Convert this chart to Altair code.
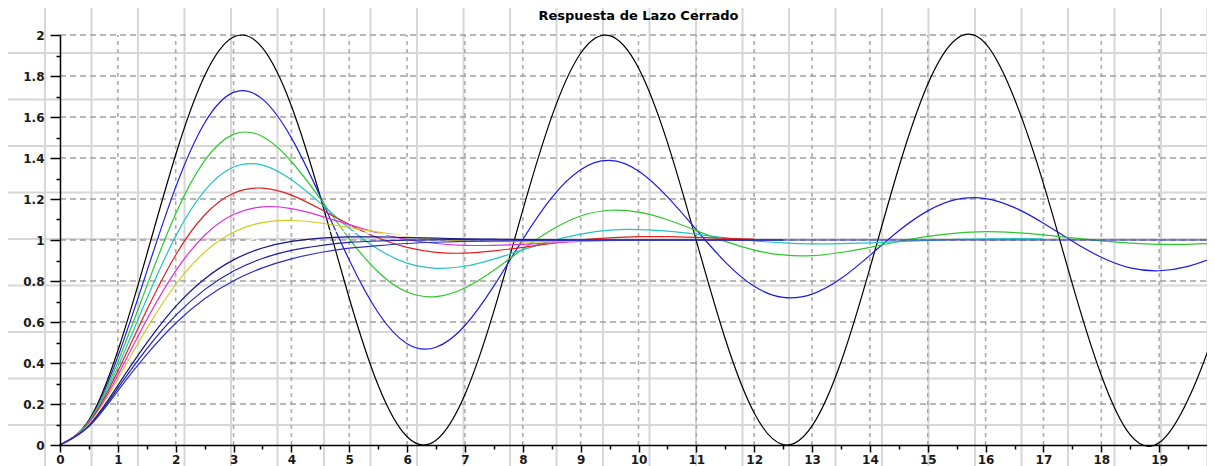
import altair as alt
import pandas as pd

# ---------------- data ----------------
T = [0, 0.5, 1, 1.5, 2, 2.5, 3, 3.5, 4, 4.5, 5, 5.5, 6, 6.5, 7, 7.5, 8, 8.5, 9, 9.5,
     10, 10.5, 11, 11.5, 12, 12.5, 13, 13.5, 14, 14.5, 15, 15.5, 16, 16.5, 17, 17.5,
     18, 18.5, 19, 19.5, 20, 20.5, 21]

series_names = ["z0.0", "z0.1", "z0.2", "z0.3", "z0.4", "z0.5", "z0.6", "z0.7", "z0.8", "z0.9", "z1.0"]

Y_BLACK = [0, 0.122, 0.460, 0.929, 1.416, 1.801, 1.990, 1.937, 1.654, 1.211, 0.716, 0.291,
           0.040, 0.023, 0.246, 0.653, 1.146, 1.602, 1.911, 1.997, 1.839, 1.476, 0.996,
           0.517, 0.156, 0.002, 0.093, 0.405, 0.863, 1.355, 1.760, 1.982, 1.958, 1.688,
           1.275, 0.785, 0.340, 0.049, 0.011, 0.222, 0.592, 1.075, 1.548]
Y_BLUE = [0, 0.118, 0.431, 0.846, 1.258, 1.571, 1.720, 1.687, 1.498, 1.211, 0.902, 0.645,
          0.494, 0.477, 0.583, 0.776, 1.003, 1.207, 1.343, 1.388, 1.336, 1.210, 1.050,
          0.892, 0.774, 0.720, 0.736, 0.812, 0.925, 1.045, 1.142, 1.198, 1.202, 1.158,
          1.082, 0.994, 0.916, 0.864, 0.850, 0.871, 0.921, 0.984, 1.045]
Y_GREEN = [0, 0.115, 0.405, 0.775, 1.128, 1.387, 1.515, 1.505, 1.383, 1.201, 1.006, 0.844,
           0.746, 0.724, 0.766, 0.852, 0.956, 1.050, 1.117, 1.145, 1.136, 1.099, 1.046,
           0.993, 0.951, 0.927, 0.924, 0.939, 0.964, 0.993, 1.018, 1.034, 1.041, 1.036,
           1.025, 1.010, 0.996, 0.985, 0.979, 0.979, 0.984, 0.991, 0.999]
Y_CYAN = [0, 0.111, 0.381, 0.713, 1.019, 1.241, 1.356, 1.365, 1.294, 1.180, 1.057, 0.955,
          0.887, 0.862, 0.872, 0.907, 0.952, 0.996, 1.029, 1.048, 1.051, 1.043, 1.028,
          1.011, 0.996, 0.986, 0.981, 0.982, 0.986, 0.992, 0.998, 1.003, 1.006, 1.007, 1.006]
Y_RED = [0, 0.108, 0.360, 0.658, 0.927, 1.122, 1.228, 1.253, 1.219, 1.151, 1.076, 1.010,
         0.964, 0.940, 0.936, 0.947, 0.964, 0.983, 1.000, 1.010, 1.016, 1.016, 1.013, 1.008, 1.004]
Y_MAGENTA = [0, 0.104, 0.340, 0.611, 0.849, 1.023, 1.124, 1.162, 1.153, 1.118, 1.075, 1.034,
             1.002, 0.983, 0.974, 0.974, 0.979, 0.986, 0.993, 0.998, 1.002]
Y_YELLOW = [0, 0.101, 0.322, 0.568, 0.783, 0.941, 1.038, 1.085, 1.095, 1.083, 1.061, 1.038,
            1.018, 1.004, 0.995, 0.992, 0.991, 0.992, 0.995, 0.997, 0.999]
Y_WHITE = [0, 0.098, 0.306, 0.531, 0.726, 0.871, 0.965, 1.018, 1.042, 1.046, 1.040, 1.030,
           1.020, 1.011, 1.005, 1.001, 0.999, 0.998, 0.998, 0.998, 0.999]
Y_NAVY1 = [0, 0.096, 0.291, 0.498, 0.676, 0.810, 0.903, 0.961, 0.993, 1.009, 1.015, 1.015,
           1.012, 1.009, 1.006, 1.004, 1.002, 1.001, 1.000, 1.000, 1.000, 1.000, 1.000,
           1.000, 1.000, 1.000]
Y_NAVY2 = [0, 0.093, 0.277, 0.469, 0.632, 0.758, 0.849, 0.910, 0.949, 0.973, 0.988, 0.995,
           0.999, 1.001, 1.002, 1.001, 1.001, 1.000, 1.000, 1.000, 1.000, 1.000, 1.000,
           1.000, 1.000, 1.000]
Y_NAVY3 = [0, 0.090, 0.264, 0.442, 0.594, 0.713, 0.801, 0.864, 0.908, 0.939, 0.960, 0.973,
           0.983, 0.989, 0.993, 0.995, 0.997, 0.998, 0.999, 0.999, 1.000, 1.000, 1.000,
           1.000, 1.000, 1.000, 1.000, 1.000, 1.000, 1.000, 1.000, 1.000, 1.000, 1.000,
           1.000, 1.000, 1.000, 1.000, 1.000, 1.000, 1.000, 1.000, 1.000]

all_series = [Y_BLACK, Y_BLUE, Y_GREEN, Y_CYAN, Y_RED, Y_MAGENTA, Y_YELLOW, Y_WHITE,
              Y_NAVY1, Y_NAVY2, Y_NAVY3]
curve_colors = ["#000000", "#1c1ce6", "#2ec82e", "#22c4c4", "#e02020", "#e02ee0",
                "#d2ca1c", "#ffffff", "#14148c", "#2020a8", "#3030c2"]

# axis ticks: major (labelled) and minor
x_major = [0, 1, 2, 3, 4, 5, 6, 7, 8, 9, 10, 11, 12, 13, 14, 15, 16, 17, 18, 19, 20]
x_minor = [0.5, 1.5, 2.5, 3.5, 4.5, 5.5, 6.5, 7.5, 8.5, 9.5, 10.5, 11.5, 12.5, 13.5,
           14.5, 15.5, 16.5, 17.5, 18.5, 19.5]
y_major = [0, 0.2, 0.4, 0.6, 0.8, 1.0, 1.2, 1.4, 1.6, 1.8, 2.0]
y_minor = [0.1, 0.3, 0.5, 0.7, 0.9, 1.1, 1.3, 1.5, 1.7, 1.9]
x_grid = [1, 2, 3, 4, 5, 6, 7, 8, 9, 10, 11, 12, 13, 14, 15, 16, 17, 18, 19, 20]
y_grid = [0.2, 0.4, 0.6, 0.8, 1.0, 1.2, 1.4, 1.6, 1.8, 2.0]

# the figure is cut at the right edge of the picture, just before t = 20
x_visible = [0, 19.827]

# light background paper grid seen behind the figure (in data units)
bg_x = [-0.259, 0.545, 1.348, 2.152, 2.956, 3.760, 4.564, 5.367, 6.171, 6.975, 7.779,
        8.583, 9.386, 10.190, 10.994, 11.798, 12.602, 13.405, 14.209, 15.013, 15.817,
        16.621, 17.425, 18.228, 19.032, 19.836]
bg_y = [2.139, 1.912, 1.685, 1.459, 1.232, 1.005, 0.778, 0.551, 0.324, 0.098]

# ---------------- build tables ----------------
rows = []
for name, ys in zip(series_names, all_series):
    for t, v in zip(T, ys):
        rows.append({"t": t, "y": v, "serie": name})
df = pd.DataFrame(rows)

xscale = alt.Scale(domain=x_visible, nice=False, zero=False)
yscale = alt.Scale(domain=[0, 2], nice=False, zero=False)

label_style = dict(labelFont="DejaVu Sans", labelFontSize=12, labelFontWeight="bold",
                   labelColor="#1a1a1a", labelOverlap=False, labelFlush=False)

x_axis_major = alt.Axis(
    values=x_major, title=None, grid=False, zindex=1, orient="bottom",
    domainColor="#000000", domainWidth=1.5,
    tickColor="#000000", tickWidth=1.5, tickSize=7,
    labelExpr="toString(round(datum.value))", labelPadding=2, **label_style,
)
x_axis_minor = alt.Axis(
    values=x_minor, title=None, grid=False, zindex=1, orient="bottom",
    domain=False, labels=False,
    tickColor="#000000", tickWidth=1.5, tickSize=4,
)
y_axis_major = alt.Axis(
    values=y_major, title=None, grid=False, zindex=1, orient="left",
    domainColor="#000000", domainWidth=1.5,
    tickColor="#000000", tickWidth=1.5, tickSize=10,
    labelExpr="toString(round(datum.value * 10) / 10)", labelPadding=6, **label_style,
)
y_axis_minor = alt.Axis(
    values=y_minor, title=None, grid=False, zindex=1, orient="left",
    domain=False, labels=False,
    tickColor="#000000", tickWidth=1.5, tickSize=4,
)

bg_v = alt.Chart(pd.DataFrame({"t": bg_x})).mark_rule(color="#d7d7d7", strokeWidth=2).encode(
    x=alt.X("t:Q", scale=xscale, axis=None),
    y=alt.YDatum(-0.2, scale=yscale, axis=None),
    y2=alt.Y2Datum(2.14),
)
bg_h = alt.Chart(pd.DataFrame({"y": bg_y})).mark_rule(color="#d7d7d7", strokeWidth=2).encode(
    y=alt.Y("y:Q", scale=yscale, axis=None),
    x=alt.XDatum(-1.2, scale=xscale, axis=None),
    x2=alt.X2Datum(21.5),
)
grid_v = alt.Chart(pd.DataFrame({"t": x_grid})).mark_rule(
    color="#ababab", strokeWidth=1.6, strokeDash=[4, 4]).encode(
    x=alt.X("t:Q", scale=xscale, axis=x_axis_minor),
    y=alt.YDatum(0, scale=yscale, axis=None),
    y2=alt.Y2Datum(2),
)
grid_h = alt.Chart(pd.DataFrame({"y": y_grid})).mark_rule(
    color="#a0a0a0", strokeWidth=1.4, strokeDash=[6, 4]).encode(
    y=alt.Y("y:Q", scale=yscale, axis=y_axis_minor),
    x=alt.XDatum(0, scale=xscale, axis=None),
    x2=alt.X2Datum(20),
)
curves = alt.Chart(df).mark_line(interpolate="natural", strokeWidth=1.2).encode(
    x=alt.X("t:Q", scale=xscale, axis=x_axis_major),
    y=alt.Y("y:Q", scale=yscale, axis=y_axis_major),
    color=alt.Color("serie:N", scale=alt.Scale(domain=series_names, range=curve_colors),
                    legend=None),
)

chart = alt.layer(bg_v, bg_h, grid_v, grid_h, curves).resolve_axis(
    x="independent", y="independent"
).properties(
    width=1147,
    height=410,
    title=alt.TitleParams(
        "Respuesta de Lazo Cerrado", font="DejaVu Sans", fontSize=13,
        fontWeight="bold", color="#000000", anchor="middle",
        baseline="alphabetic", offset=-28, dx=5,
    ),
    autosize=alt.AutoSizeParams(type="none"),
    padding={"left": 52, "top": 27, "right": 0, "bottom": 25},
    background="#ffffff",
).configure_view(stroke=None)

chart.save("out.html", embed_options={"renderer": "svg", "actions": False})
